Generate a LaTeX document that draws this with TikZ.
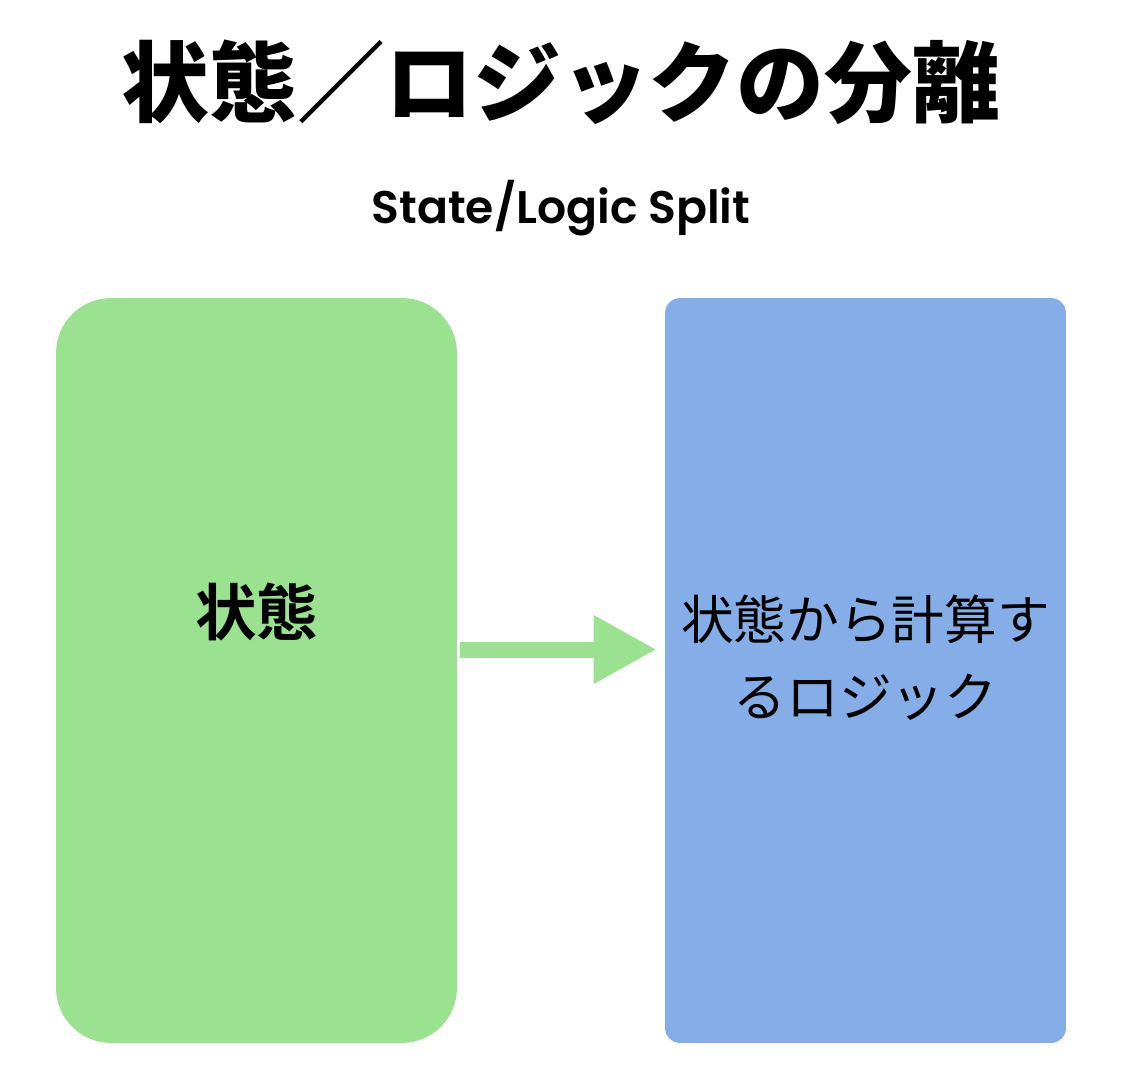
\documentclass[tikz,border=0pt]{standalone}
\usepackage{fontspec}
\usetikzlibrary{arrows.meta}
\newfontfamily\cjk{Noto Sans CJK JP}[BoldFont={Noto Sans CJK JP Bold}]
\newfontfamily\cjkheavy{Noto Sans CJK JP Black}
\newfontfamily\poppins{Poppins}[BoldFont={Poppins SemiBold}]
\definecolor{stategreen}{RGB}{154,226,144}
\definecolor{logicblue}{RGB}{133,173,231}
\tikzset{
  statebox/.style={fill=stategreen, rounded corners=1.1cm, minimum width=8.02cm, minimum height=14.9cm, inner sep=0pt},
  logicbox/.style={fill=logicblue, rounded corners=0.3cm, minimum width=8.02cm, minimum height=14.9cm, inner sep=0pt},
  flow/.style={stategreen, line width=0.32cm, -{Triangle[length=1.26cm,width=1.28cm]}}
}
\begin{document}
\begin{tikzpicture}[x=0.02cm,y=0.02cm]
\useasboundingbox (0,0) rectangle (1146,1090);
\node[font=\cjkheavy\fontsize{50}{56}\selectfont] (title) at (561,1008) {状態／ロジックの分離};
\node[font=\poppins\bfseries\fontsize{26}{30}\selectfont] (subtitle) at (561,882) {State/Logic Split};

\node[statebox] (state) at (256.5,419.5) {};
\node[logicbox] (logic) at (865.5,419.5) {};
\node[font=\cjk\bfseries\fontsize{35}{40}\selectfont] (statetext) at (256.5,478) {状態};
\node[align=center, font=\cjk\fontsize{30}{44}\selectfont] (logictext) at (865.5,432) {状態から計算す\\るロジック};

\draw[flow] ([shift={(3,21)}]state.east) -- ([shift={(-8,21)}]logic.west);
\end{tikzpicture}
\end{document}
